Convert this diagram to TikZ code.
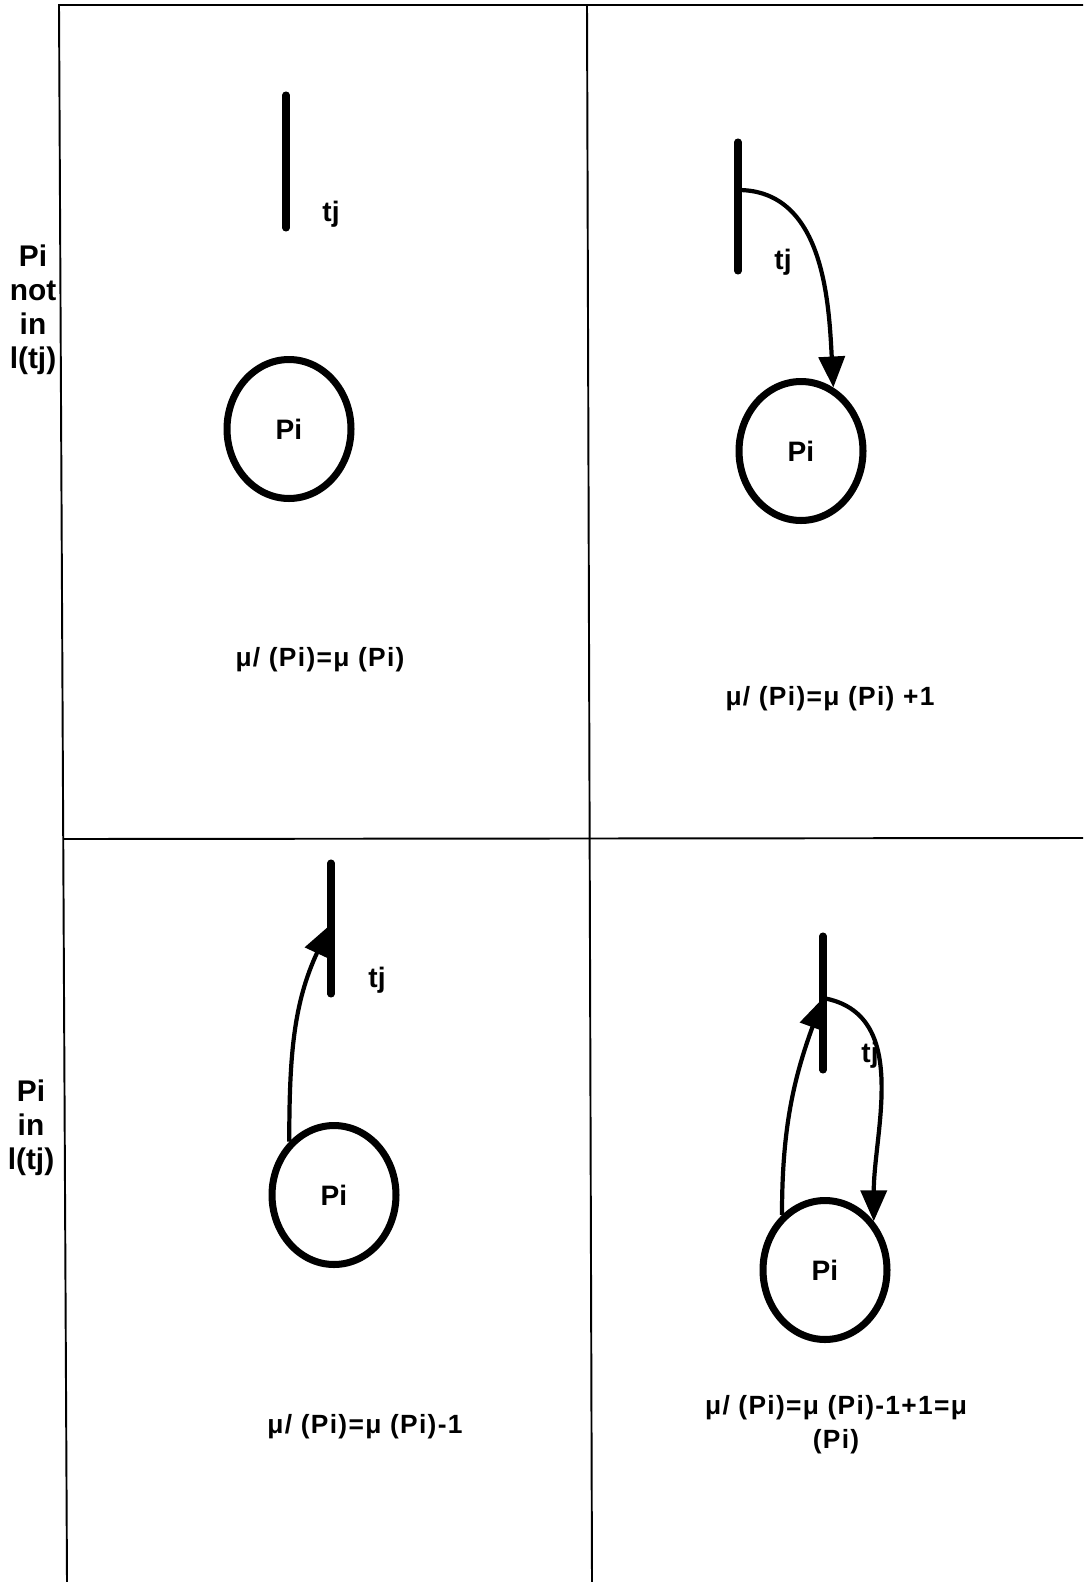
\documentclass[tikz,border=0pt]{standalone}
\usepackage{fontspec}
\setmainfont{Liberation Sans}
\setsansfont{Liberation Sans}
\newfontfamily\eqfont[LetterSpace=5]{Liberation Sans}
\usetikzlibrary{shapes.geometric,arrows.meta}

\begin{document}
\begin{tikzpicture}[
  x=0.02cm, y=-0.02cm,
  font=\sffamily\bfseries,
  frame/.style={line width=1.1pt},
  bar/.style={line width=4pt, line cap=round},
  place/.style={draw, ellipse, line width=4pt, inner sep=0pt, minimum width=2.48cm, minimum height=2.78cm, font=\sffamily\bfseries\fontsize{16}{19}\selectfont},
  arc/.style={line width=2.4pt, -{Triangle[length=0.62cm,width=0.52cm]}},
  lbl/.style={font=\sffamily\bfseries\fontsize{16}{19}\selectfont},
  eqn/.style={align=center, font=\eqfont\bfseries\fontsize{15}{19.5}\selectfont},
  side/.style={align=center, font=\sffamily\bfseries\fontsize{17}{19.4}\selectfont}
]
\useasboundingbox (0,0) rectangle (1083,1582);

% table lines
\coordinate (tl) at (59,5);
\coordinate (tr) at (1083,5);
\coordinate (bl) at (67,1582);
\coordinate (tm) at (587,5);
\coordinate (bm) at (592,1582);
\coordinate (ml) at (63,839);
\coordinate (mr) at (1083,838);
\draw[frame] (tr) -- (tl) -- (bl);
\draw[frame] (tm) -- (bm);
\draw[frame] (ml) -- (mr);

% row headings
\node[side] (rowA) at (33,310) {Pi\\not\\in\\l(tj)};
\node[side] (rowB) at (31,1128) {Pi\\in\\l(tj)};

% upper left: no arc
\coordinate (b1t) at (286,95);
\coordinate (b1b) at (286,228);
\draw[bar] (b1t) -- (b1b);
\node[lbl] (t1) at (331,214) {tj};
\node[place] (c1) at (289,429) {Pi};
\node[eqn] (e1) at (320,660) {μ/ (Pi)=μ (Pi)};

% upper right: output arc
\coordinate (b2t) at (738,142);
\coordinate (b2b) at (738,271);
\coordinate (b2m) at (738,190);
\draw[bar] (b2t) -- (b2b);
\node[lbl] (t2) at (783,262) {tj};
\node[place] (c2) at (801,451) {Pi};
\draw[arc] (b2m) to[out=0,in=93] (c2.63);
\node[eqn] (e2) at (830,699) {μ/ (Pi)=μ (Pi) +1};

% lower left: input arc
\coordinate (b3t) at (331,863);
\coordinate (b3b) at (331,994);
\coordinate (b3m) at (330,925);
\draw[bar] (b3t) -- (b3b);
\node[lbl] (t3) at (377,980) {tj};
\node[place] (c3) at (334,1195) {Pi};
\draw[arc] (c3.130) to[out=90,in=-115] (b3m);
\node[eqn] (e3) at (365,1427) {μ/ (Pi)=μ (Pi)-1};

% lower right: self loop
\coordinate (b4t) at (823,936);
\coordinate (b4b) at (823,1070);
\coordinate (b4m) at (823,998);
\draw[bar] (b4t) -- (b4b);
\node[place] (c4) at (825,1270) {Pi};
\draw[arc] (c4.128) to[out=90,in=-110] (b4m);
\draw[arc] (b4m) to[out=-10,in=90] (c4.45);
\node[lbl] (t4) at (870,1055) {tj};
\node[eqn] (e4) at (836,1425) {μ/ (Pi)=μ (Pi)-1+1=μ\\(Pi)};
\end{tikzpicture}
\end{document}
